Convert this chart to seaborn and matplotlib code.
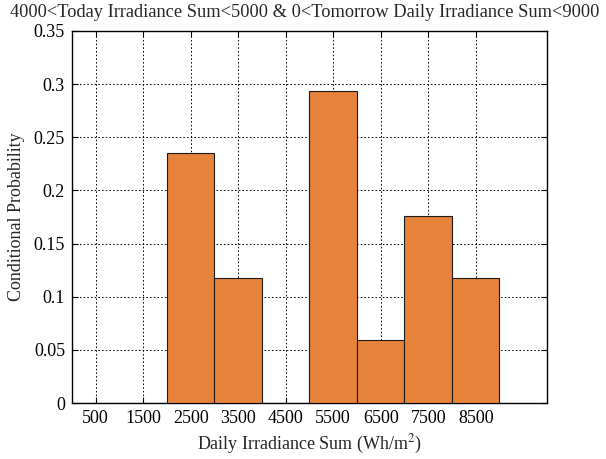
import numpy as np
import pandas as pd
import matplotlib
matplotlib.use("Agg")
import matplotlib.pyplot as plt
import seaborn as sns

# Bin centres (Wh/m^2) and conditional probabilities of each bin
bin_centers = [500, 1500, 2500, 3500, 4500, 5500, 6500, 7500, 8500]
probabilities = [0.0, 0.0, 0.235, 0.118, 0.0, 0.294, 0.059, 0.176, 0.118]
bin_edges = [0, 1000, 2000, 3000, 4000, 5000, 6000, 7000, 8000, 9000]
tick_labels = ["500", "1500", "2500", "3500", "4500", "5500", "6500", "7500", "8500"]
y_ticks = [0, 0.05, 0.1, 0.15, 0.2, 0.25, 0.3, 0.35]
y_tick_labels = ["0", "0.05", "0.1", "0.15", "0.2", "0.25", "0.3", "0.35"]

df = pd.DataFrame({"irradiance": bin_centers, "prob": probabilities})

sns.set_style("white")
plt.rcParams["font.family"] = ["Liberation Serif", "DejaVu Serif"]
plt.rcParams["mathtext.fontset"] = "stix"

fig = plt.figure(figsize=(6.06, 4.59), dpi=100)
ax = fig.add_axes([0.1188, 0.122, 0.7838, 0.8105])

sns.histplot(data=df, x="irradiance", weights="prob", bins=bin_edges,
             stat="count", color="#E6823A", alpha=1.0,
             edgecolor="#1a1a1a", linewidth=0.8, ax=ax, zorder=3)

ax.set_xlim(0, 10000)
ax.set_ylim(0, 0.35)
ax.set_xticks(bin_centers)
ax.set_xticklabels(tick_labels)
ax.set_yticks(y_ticks)
ax.set_yticklabels(y_tick_labels)

ax.set_axisbelow(True)
ax.grid(True, color="black", linestyle=(0, (1.6, 2.2)), linewidth=0.7)

for s in ax.spines.values():
    s.set_visible(True)
    s.set_color("black")
    s.set_linewidth(1.0)

ax.tick_params(axis="both", direction="in", length=4, width=0.8,
               top=True, right=True, bottom=True, left=True,
               labelsize=13, pad=5, colors="black")

ax.set_xlabel("Daily Irradiance Sum (Wh/m$^2$)", fontsize=13, labelpad=4)
ax.set_ylabel("Conditional Probability", fontsize=13, labelpad=6)
fig.text(0.502, 0.972,
         "4000<Today Irradiance Sum<5000 & 0<Tomorrow Daily Irradiance Sum<9000",
         fontsize=13.2, ha="center", va="center")

fig.savefig("out.png", dpi=100, facecolor="white")
